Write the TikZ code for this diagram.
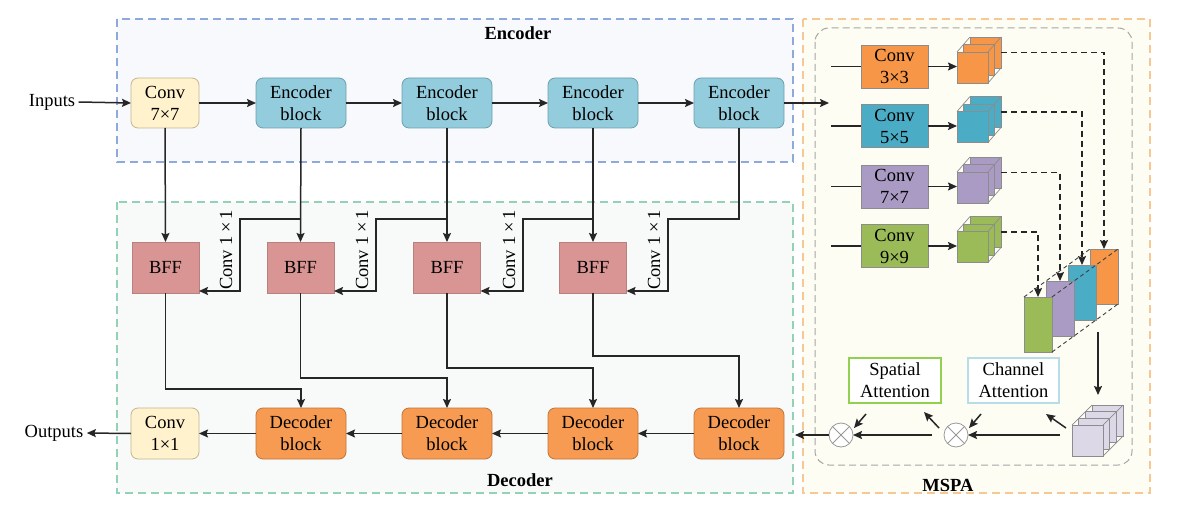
\documentclass[tikz,border=0pt]{standalone}
\usepackage{fontspec}
\setmainfont{Liberation Serif}
\usetikzlibrary{arrows.meta,calc}
\definecolor{encfill}{HTML}{F8F9FD}
\definecolor{encdraw}{HTML}{8EAADB}
\definecolor{decfill}{HTML}{F7FAF8}
\definecolor{decdraw}{HTML}{93D2B4}
\definecolor{mspafill}{HTML}{FEFDF4}
\definecolor{mspadraw}{HTML}{F6C994}
\definecolor{innerdraw}{HTML}{A6A6A6}
\definecolor{convy}{HTML}{FFF2CC}
\definecolor{convydraw}{HTML}{C2B58F}
\definecolor{encb}{HTML}{93CDDD}
\definecolor{encbdraw}{HTML}{6E9FAE}
\definecolor{bffc}{HTML}{D99594}
\definecolor{bffdraw}{HTML}{B8807F}
\definecolor{decb}{HTML}{F79B52}
\definecolor{decbdraw}{HTML}{C0743B}
\definecolor{corange}{HTML}{F79646}
\definecolor{cblue}{HTML}{4BACC6}
\definecolor{cpurple}{HTML}{A99BC4}
\definecolor{cgreen}{HTML}{9BBB59}
\definecolor{lav}{HTML}{DDD8E8}
\definecolor{spatb}{HTML}{92D050}
\definecolor{chanb}{HTML}{B7DEE8}
\definecolor{linec}{HTML}{262626}
% #1 x front-left, #2 y front-top, #3 size, #4 layers, #5 dx, #6 dy, #7 fill
\newcommand{\layercube}[7]{%
  \pgfmathtruncatemacro{\nnlay}{#4-1}%
  \foreach \i in {\nnlay,...,0}{%
    \filldraw[fill=#7, draw=black!45, line width=0.7pt]
      ({#1+\i*#5},{#2-\i*#6}) rectangle ++(#3,#3);
  }%
  \draw[black!45, line width=0.7pt]
    (#1,#2) -- ({#1+\nnlay*#5},{#2-\nnlay*#6})
    ({#1+#3},#2) -- ({#1+#3+\nnlay*#5},{#2-\nnlay*#6})
    ({#1+#3},{#2+#3}) -- ({#1+#3+\nnlay*#5},{#2+#3-\nnlay*#6});
}
\begin{document}
\begin{tikzpicture}[x=1pt,y=-1pt,
  font=\fontsize{18.5}{22}\selectfont,
  arr/.style={draw=linec, line width=1.5pt, -{Stealth[length=9pt,width=8pt,inset=1.5pt]}},
  plain/.style={draw=linec, line width=1.5pt},
  darr/.style={draw=linec, line width=1.4pt, dash pattern=on 6pt off 4pt, -{Stealth[length=9pt,width=8pt,inset=1.5pt]}},
  blk/.style={rectangle, rounded corners=7pt, minimum width=90pt, minimum height=50pt, inner sep=0pt, outer sep=0pt, align=center, line width=0.8pt},
  convbox/.style={blk, minimum width=68pt, fill=convy, draw=convydraw},
  encbox/.style={blk, fill=encb, draw=encbdraw},
  decbox/.style={blk, minimum height=51pt, fill=decb, draw=decbdraw},
  bffbox/.style={rectangle, minimum width=67pt, minimum height=51pt, inner sep=0pt, outer sep=0pt, fill=bffc, draw=bffdraw, line width=0.8pt},
  mconv/.style={rectangle, minimum width=67pt, minimum height=43pt, inner sep=0pt, outer sep=0pt, align=center, draw=black!45, line width=0.8pt},
  slab/.style={rectangle, minimum width=28pt, minimum height=55pt, inner sep=0pt, outer sep=0pt, draw=black!45, line width=0.7pt},
  attbox/.style={rectangle, minimum width=92pt, minimum height=45pt, inner sep=0pt, outer sep=0pt, align=center, fill=white, line width=1.3pt},
  otimes/.style={circle, minimum size=24pt, inner sep=0pt, outer sep=0pt, draw=black!40, fill=white, line width=0.8pt},
  c11/.style={rotate=90, inner sep=0pt},
  lbl/.style={font=\fontsize{18.5}{22}\selectfont\bfseries}
]
\useasboundingbox (0,0) rectangle (1191,516);
% regions
\draw[fill=encfill, draw=encdraw, line width=1.1pt, dash pattern=on 8pt off 5pt] (117,19) rectangle (793,162);
\draw[fill=decfill, draw=decdraw, line width=1.1pt, dash pattern=on 8pt off 5pt] (117,202) rectangle (793,493);
\draw[fill=mspafill, draw=mspadraw, line width=1.1pt, dash pattern=on 8pt off 5pt] (803,19) rectangle (1150,493);
\draw[draw=innerdraw, line width=1.0pt, dash pattern=on 7pt off 4pt, rounded corners=14pt] (815,28) rectangle (1132,465);
\node[lbl] (enclbl) at (518,33) {Encoder};
\node[lbl] (declbl) at (520,480) {Decoder};
\node[lbl] (mspalbl) at (948,485) {MSPA};

% encoder row
\node (inp) at (52,102) {Inputs};
\node[convbox] (conv7) at (165,103) {Conv\\7×7};
\node[encbox] (enc1) at (301,103) {Encoder\\block};
\node[encbox] (enc2) at (447,103) {Encoder\\block};
\node[encbox] (enc3) at (593,103) {Encoder\\block};
\node[encbox] (enc4) at (739,103) {Encoder\\block};
\coordinate (mspain) at (829,103);
\draw[arr] (inp.east) -- (conv7.west);
\draw[arr] (conv7) -- (enc1);
\draw[arr] (enc1) -- (enc2);
\draw[arr] (enc2) -- (enc3);
\draw[arr] (enc3) -- (enc4);
\draw[arr] (enc4.east) -- (mspain);

% BFF row
\node[bffbox] (bff1) at (165.5,267.5) {BFF};
\node[bffbox] (bff2) at (300.5,267.5) {BFF};
\node[bffbox] (bff3) at (447,267.5) {BFF};
\node[bffbox] (bff4) at (593,267.5) {BFF};
\draw[arr] (conv7.south) -- (bff1.north);
\draw[arr] (enc1.south) -- (bff2.north);
\draw[arr] (enc2.south) -- (bff3.north);
\draw[arr] (enc3.south) -- (bff4.north);
\coordinate (k1) at (240,219);
\coordinate (k2) at (376,219);
\coordinate (k3) at (523,219);
\coordinate (k4) at (668,219);
\draw[arr] (enc1.south |- k1) -- (k1) -- (k1 |- 0,291) -- (bff1.east |- 0,291);
\draw[arr] (enc2.south |- k2) -- (k2) -- (k2 |- 0,291) -- (bff2.east |- 0,291);
\draw[arr] (enc3.south |- k3) -- (k3) -- (k3 |- 0,291) -- (bff3.east |- 0,291);
\draw[arr] (enc4.south) -- (enc4.south |- k4) -- (k4) -- (k4 |- 0,291) -- (bff4.east |- 0,291);
\node[c11] (t1) at (226,250) {Conv 1\,×\,1};
\node[c11] (t2) at (362,250) {Conv 1\,×\,1};
\node[c11] (t3) at (509,250) {Conv 1\,×\,1};
\node[c11] (t4) at (654,250) {Conv 1\,×\,1};

% decoder row
\node[convbox, minimum height=51pt] (conv1) at (165,433.5) {Conv\\1×1};
\node[decbox] (dec1) at (301,433.5) {Decoder\\block};
\node[decbox] (dec2) at (447,433.5) {Decoder\\block};
\node[decbox] (dec3) at (593,433.5) {Decoder\\block};
\node[decbox] (dec4) at (739,433.5) {Decoder\\block};
\node (outp) at (54,433) {Outputs};
\coordinate (l1) at (0,389);
\coordinate (l2) at (0,378);
\coordinate (l3) at (0,368);
\coordinate (l4) at (0,356);
\draw[arr] (bff1.south) -- (bff1.south |- l1) -| (dec1.north);
\draw[arr] (bff2.south) -- (bff2.south |- l2) -| (dec2.north);
\draw[arr] (bff3.south) -- (bff3.south |- l3) -| (dec3.north);
\draw[arr] (bff4.south) -- (bff4.south |- l4) -| (dec4.north);
\draw[arr] (dec4) -- (dec3);
\draw[arr] (dec3) -- (dec2);
\draw[arr] (dec2) -- (dec1);
\draw[arr] (dec1) -- (conv1);
\draw[arr] (conv1.west) -- (outp.east);

% MSPA
\node[mconv, fill=corange] (cv3) at (894.5,66.5) {Conv\\3×3};
\node[mconv, fill=cblue] (cv5) at (894.5,126) {Conv\\5×5};
\node[mconv, fill=cpurple] (cv7) at (894.5,186.5) {Conv\\7×7};
\node[mconv, fill=cgreen] (cv9) at (894.5,246) {Conv\\9×9};
\coordinate (s3) at (831,66.5);
\coordinate (s5) at (831,126);
\coordinate (s7) at (831,186.5);
\coordinate (s9) at (831,246);
\draw[plain] (s3) -- (cv3.west);
\draw[plain] (s5) -- (cv5.west);
\draw[plain] (s7) -- (cv7.west);
\draw[plain] (s9) -- (cv9.west);
\coordinate (q3) at (957,66.5);
\coordinate (q5) at (957,126);
\coordinate (q7) at (957,186.5);
\coordinate (q9) at (957,246);
\draw[arr] (cv3.east) -- (q3);
\draw[arr] (cv5.east) -- (q5);
\draw[arr] (cv7.east) -- (q7);
\draw[arr] (cv9.east) -- (q9);
\layercube{957}{52}{31}{3}{6.5}{7.5}{corange}
\layercube{957}{111.5}{31}{3}{6.5}{7.5}{cblue}
\layercube{957}{172}{31}{3}{6.5}{7.5}{cpurple}
\layercube{957}{231.5}{31}{3}{6.5}{7.5}{cgreen}
\coordinate (o3) at (1001,52.5);
\coordinate (o5) at (1001,112);
\coordinate (o7) at (1001,172.5);
\coordinate (o9) at (1001,232);
% stacked slabs
\node[slab, fill=corange] (so) at (1104,276.5) {};
\node[slab, fill=cblue] (sb) at (1082,292.5) {};
\node[slab, fill=cpurple] (sp) at (1060,308.5) {};
\node[slab, fill=cgreen] (sg) at (1038,324.5) {};
\draw[black!75, line width=0.9pt, dash pattern=on 4pt off 3pt] (sg.north west) -- (so.north west);
\draw[black!75, line width=0.9pt, dash pattern=on 4pt off 3pt] (sg.north east) -- (so.north east);
\draw[black!75, line width=0.9pt, dash pattern=on 4pt off 3pt] (sg.south east) -- (so.south east);
\draw[darr] (o3) -| (so.north);
\draw[darr] (o5) -| (sb.north);
\draw[darr] (o7) -| (sp.north);
\draw[darr] (o9) -| (sg.north);
% lavender cube
\coordinate (st1) at (1098,332);
\coordinate (st2) at (1098,395);
\draw[arr] (st1) -- (st2);
\layercube{1072}{425}{31}{4}{6.7}{6.7}{lav}
% attention
\node[attbox, draw=spatb] (spat) at (895,380.5) {Spatial\\Attention};
\node[attbox, draw=chanb, minimum width=91pt] (chan) at (1013.5,380.5) {Channel\\Attention};
\node[otimes] (c1) at (956,435) {};
\node[otimes] (c2) at (841,435) {};
\draw[black!40, line width=0.8pt] (c1.north west) -- (c1.south east) (c1.north east) -- (c1.south west);
\draw[black!40, line width=0.8pt] (c2.north west) -- (c2.south east) (c2.north east) -- (c2.south west);
\coordinate (lc) at (1060,435);
\draw[arr] (lc) -- (c1.east);
\coordinate (m1) at (932,435);
\draw[arr] (m1) -- (c2.east);
\coordinate (decin) at (795,435);
\draw[arr] (c2.west) -- (decin);
\coordinate (d1a) at (1066,428); \coordinate (d1b) at (1046,414);
\coordinate (d2a) at (981,414);  \coordinate (d2b) at (969,428);
\coordinate (d3a) at (939,428);  \coordinate (d3b) at (924,412);
\coordinate (d4a) at (866,414);  \coordinate (d4b) at (854,428);
\draw[arr] (d1a) -- (d1b);
\draw[arr] (d2a) -- (d2b);
\draw[arr] (d3a) -- (d3b);
\draw[arr] (d4a) -- (d4b);
\end{tikzpicture}
\end{document}
